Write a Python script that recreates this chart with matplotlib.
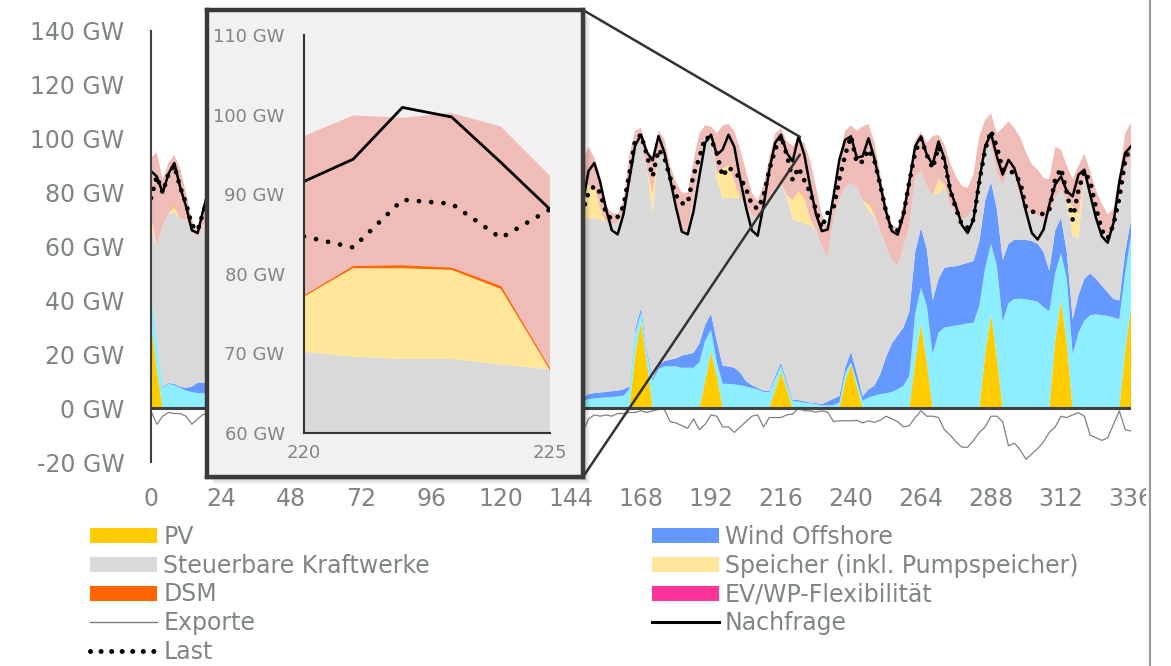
import numpy as np
import matplotlib.pyplot as plt
from matplotlib.patches import Patch, Rectangle, ConnectionPatch
from matplotlib.lines import Line2D

plt.rcParams['font.family'] = ['DejaVu Sans']

TXT = '#7f8585'
C_PV = '#ffcc00'
C_ON = '#8ceeff'
C_OFF = '#6699ff'
C_ST = '#d9d9d9'
C_SP = '#ffe699'
C_DSM = '#ff6600'
C_EV = '#ff3399'
C_IMP = '#f0bcb8'

# two weeks, every second hour (one row = one day)
hours = np.arange(0, 337, 2)

pv = [
    32, 14, 0, 0, 0, 0, 0, 0, 0, 0, 0, 12,
    26, 12, 0, 0, 0, 0, 0, 0, 0, 0, 0, 13,
    27, 13, 0, 0, 0, 0, 0, 0, 0, 0, 0, 11,
    24, 11, 0, 0, 0, 0, 0, 0, 0, 0, 0, 12,
    25, 12, 0, 0, 0, 0, 0, 0, 0, 0, 0, 12,
    24, 11, 0, 0, 0, 0, 0, 0, 0, 0, 0, 10,
    22, 10, 0, 0, 0, 0, 0, 0, 0, 0, 0, 20,
    32, 17, 0, 0, 0, 0, 0, 0, 0, 0, 0, 10,
    21, 12, 0, 0, 0, 0, 0, 0, 0, 0, 0, 7,
    13.5, 7, 0, 0, 0, 0, 0, 0, 0, 0, 0, 10,
    16.3, 8, 0, 0, 0, 0, 0, 0, 0, 0, 0, 17,
    31.5, 17, 0, 0, 0, 0, 0, 0, 0, 0, 0, 20,
    35, 19, 0, 0, 0, 0, 0, 0, 0, 0, 0, 25,
    40, 24, 0, 0, 0, 0, 0, 0, 0, 0, 0, 21,
    37,
]

wind_onshore = [
    10, 11, 7.6, 9, 8.5, 7.5, 6.5, 6, 5.5, 5.5, 5.5, 8,
    8, 8, 8, 8, 8, 7, 7, 7, 6, 7, 8, 9,
    9, 9, 9, 9, 9, 8, 8, 8, 7, 8, 9, 7,
    7, 7, 7, 7, 7, 6, 6, 6, 5, 6, 7, 6,
    6, 6, 6, 6, 6, 5, 5, 5, 5, 5, 6, 5,
    5, 5, 5, 5, 5, 4, 4, 4, 4, 4, 4, 3,
    3, 3, 2.7, 3.3, 3.6, 3.8, 4, 4.2, 4.3, 4.6, 7, 8,
    3.4, 3.6, 10, 14.5, 15.5, 15.5, 15.5, 15, 15, 15, 17, 15,
    8, 5, 9, 9, 8.8, 8.5, 8, 7.5, 7, 6, 6, 4,
    2.2, 2, 2.7, 2.4, 2.0, 1.8, 1.5, 1, 1, 1.2, 2, 3,
    0.7, 2, 2.7, 4, 4.6, 5.2, 5.5, 6, 7, 8.3, 12, 18,
    13.2, 21, 20, 28, 29.9, 30.3, 30.7, 31, 31.5, 31.7, 38, 32,
    26, 34, 32, 39, 40.5, 40.6, 40.4, 40, 39.5, 37.5, 36, 25,
    17.6, 24, 20, 28, 32.5, 34.5, 34.8, 34.5, 34.2, 33.6, 33, 29,
    27,
]

wind_offshore = [
    0.5, 0.5, 0.4, 0.3, 0.5, 0.5, 1, 2, 4, 4, 3.5, 3,
    3, 3, 3, 3, 3, 3, 3, 3, 3, 3, 3, 4,
    4, 4, 4, 4, 4, 4, 4, 4, 4, 4, 4, 3,
    3, 3, 3, 3, 3, 3, 3, 3, 3, 3, 3, 2,
    2, 2, 2, 2, 2, 2, 2, 2, 2, 2, 2, 2,
    2, 2, 2, 2, 2, 2, 2, 2, 2, 2, 2, 1,
    1, 1, 1.3, 1.9, 2, 2, 2, 2.1, 2.2, 2.4, 1, 1.3,
    1.9, 1.2, 1, 1.5, 2, 2.5, 3, 4.5, 5, 5.5, 7, 6,
    6, 8, 6.7, 6.5, 6.2, 4.7, 2, 1, 0.5, 0.5, 0.5, 1,
    1.2, 1, 0.5, 0.6, 0.5, 0.3, 0.4, 0.5, 1.5, 2.3, 2.5, 2,
    4, 3, 1.8, 3, 3.7, 7.3, 13.5, 18, 20, 21.7, 24, 23,
    22.3, 21, 20, 20, 22.1, 22.2, 22, 22.3, 22.5, 22.9, 24, 25,
    23, 21, 23, 22, 22, 22, 22.1, 22, 21.5, 20.5, 15, 16,
    13.1, 10, 13, 14, 15.5, 15.5, 13.2, 11, 8.8, 6.9, 7, 8,
    6,
]

steuerbar = [
    24.5, 34.5, 60, 62.7, 64, 62, 62.5, 58, 53.5, 58.5, 63, 62,
    52, 60, 74, 79, 74, 67, 59, 55, 56, 61, 68, 61,
    50, 58, 72, 77, 73, 66, 58, 54, 55, 60, 67, 64,
    55, 63, 76, 81, 76, 69, 61, 57, 58, 63, 70, 66,
    56, 64, 78, 83, 78, 71, 63, 59, 59, 65, 72, 67,
    59, 66, 79, 84, 79, 72, 64, 60, 60, 66, 74, 70,
    60, 62, 66, 65.3, 64.9, 64.2, 63, 62.2, 62.5, 65, 76, 68.7,
    61.7, 67.2, 61, 80, 76.5, 66, 57.5, 45.5, 46, 57.5, 68, 70,
    66, 60, 62.3, 62.5, 63, 64.8, 65, 63.5, 62.5, 66.5, 71.5, 70,
    66.6, 68, 67, 66.3, 66.1, 65.9, 64.1, 58.5, 53.5, 66.5, 72.9, 67,
    62.6, 69, 72.5, 66.7, 62.7, 53.5, 41, 31, 26, 30, 31.5, 28,
    21, 23.5, 39, 31.5, 30, 22.5, 19.8, 16.7, 17, 20.4, 28, 19,
    14, 13, 28, 28, 23.5, 16.4, 11.5, 10, 10.5, 12, 21, 12,
    10.3, 19, 31, 21, 38, 30, 25, 21.5, 20, 29.5, 38, 31,
    23,
]

# storage and demand-side management only run in a few hours
speicher_hours = {0: 4, 8: 2, 146: 4, 148: 8, 150: 12.5, 152: 11.5, 154: 4,
                  172: 8, 194: 2, 196: 11, 198: 12, 200: 6, 218: 1, 220: 7,
                  222: 11.4, 224: 9.5, 226: 2, 246: 2.3, 248: 1, 270: 5.5,
                  272: 1, 316: 11, 318: 9}
dsm_hours = {8: 0.5, 172: 0.3, 222: 0.3, 224: 0.3, 246: 0.3}

importe = [
    22, 35, 17, 19, 18.5, 19, 10, 4, 2, 4, 10, 12,
    11, 13, 13, 11, 12, 12, 10, 6, 5, 7, 11, 12,
    12, 13, 14, 12, 12, 12, 10, 6, 5, 7, 11, 12,
    12, 13, 13, 11, 12, 12, 10, 6, 5, 7, 11, 12,
    11, 13, 13, 11, 12, 12, 10, 6, 5, 7, 11, 12,
    11, 13, 13, 11, 12, 12, 10, 6, 5, 7, 11, 12,
    11, 12, 14, 14, 11, 12, 6, 4, 3, 5, 10, 5,
    5, 7, 12.7, 7, 6, 6, 8, 15, 14, 14, 10, 4,
    3.5, 15, 16, 15.5, 19, 18, 13, 8, 7, 10, 15, 20,
    20.5, 20, 20.1, 18.6, 20.1, 22, 16, 12, 11, 4, 14.6, 21,
    21.4, 21, 27.5, 29.2, 27, 21, 16, 13, 14, 16, 17.5, 13.5,
    14.5, 16, 22, 16.5, 15, 16, 13.5, 12.5, 10.7, 12, 11, 11,
    11.5, 15, 21, 17.5, 18, 21.5, 21, 18.5, 17, 15.5, 13, 19,
    15, 13, 10, 18, 8.5, 8, 8, 9, 9, 4, 8, 13,
    13,
]

exporte = [
    -1, -6, -3, -1.6, -2, -2, -3, -6, -4, -2.2, -3, -3,
    -2, -4, -3, -2, -3, -4, -5, -4, -3, -3, -2, -3,
    -2, -5, -3, -2, -4, -4, -6, -4, -3, -2, -2, -3,
    -3, -4, -2, -2, -3, -5, -5, -4, -3, -3, -2, -4,
    -2, -3, -3, -2, -3, -4, -6, -5, -3, -3, -2, -3,
    -2, -4, -3, -3, -3, -4, -5, -4, -2, -3, -2, -3,
    -3, -5, -9, -4, -2.5, -3, -2.5, -3, -2, -2, -1.6, -1.6,
    -1, -1.6, -1, -0.5, -0.5, -5, -5.5, -6.5, -7.5, -4, -8, -6,
    -2.5, -3, -7, -7, -9, -7, -5, -3, -2.5, -7, -3.5, -3.5,
    -3.5, -2.5, -2.2, 0, -1, -1, -1.5, -1, -1.5, -5, -4.7, -4.7,
    -4.7, -4.5, -5.5, -4.7, -5.3, -4.5, -3, -4, -5, -7, -6.5, -3.5,
    -1, -3, -3, -3.5, -8, -10, -12.5, -14.5, -14.5, -12, -9, -7,
    -3, -3, -5, -14, -13, -15.5, -19, -17, -15, -12.5, -9, -7,
    -3, -3.5, -2.5, -1.7, -3, -10, -11, -12, -11, -6, -1, -8,
    -8.5,
]

nachfrage = [
    88, 86, 80, 87, 91, 82, 75, 66, 65, 74, 82, 93,
    96, 91, 92, 98, 94, 84, 73, 65, 64, 73, 85, 94,
    97, 92, 93, 99, 95, 85, 74, 66, 65, 74, 86, 95,
    98, 93, 94, 100, 96, 86, 75, 67, 66, 75, 87, 94,
    97, 92, 93, 99, 95, 85, 74, 66, 65, 74, 86, 93,
    96, 91, 92, 98, 94, 84, 73, 65, 64, 73, 85, 90,
    92, 84, 76, 88, 91, 84, 74, 66, 64.5, 72, 85, 97.5,
    101.5, 95, 92, 101, 95, 85, 74.5, 65.5, 64.5, 73, 86, 98.5,
    101.5, 94, 96, 101.5, 97, 85, 74.5, 66, 64, 75, 88.5, 98.5,
    101.5, 94.7, 91.6, 100.9, 94, 82.3, 72, 65.7, 66.3, 78.6, 92.2, 99.6,
    100.9, 93, 93.5, 100.2, 92.8, 83, 73, 65.7, 64.4, 71.9, 84.2, 97.2,
    100.9, 94, 90.4, 99, 92.8, 81, 75, 68, 65, 70, 84.8, 97.2,
    102, 93.5, 86.7, 92.2, 89.1, 81.7, 73, 65, 62.6, 66.3, 75.6, 83,
    86, 80.5, 78.6, 86.7, 88.5, 79.3, 70.6, 63.8, 61.4, 68.8, 84.2, 94.7,
    97.2,
]

last = [
    78, 86, 80, 87, 90, 82, 76, 68, 66, 73, 80, 89,
    92, 89, 89, 94, 91, 83, 75, 69, 68, 73, 83, 90,
    93, 90, 90, 95, 92, 84, 76, 70, 69, 74, 84, 91,
    94, 90, 91, 96, 93, 85, 77, 70, 69, 75, 85, 90,
    93, 89, 90, 95, 92, 84, 76, 70, 69, 74, 84, 89,
    92, 88, 89, 94, 91, 83, 75, 69, 68, 73, 83, 86,
    88, 80, 73, 80, 82.5, 80, 72.5, 70, 71, 75, 87, 99.5,
    101.5, 94, 86, 96, 93, 85.5, 79, 76, 76, 86.5, 93, 100.5,
    100, 94.5, 86, 89.5, 87.5, 85.5, 81.5, 75.5, 74, 78.5, 88.5, 96,
    101, 94, 84.7, 89.3, 84.5, 80, 73.5, 67, 72.5, 74.3, 84.8, 94,
    100.9, 91, 91.5, 96, 92, 83, 73, 66, 66, 72, 84, 95,
    100, 94, 89, 97, 92, 81, 74, 68, 67, 70, 84, 96,
    103, 97, 88.5, 88.5, 87, 84, 74.5, 73, 72.5, 72, 73.5, 85,
    89, 80, 70, 81, 88, 84, 74.5, 66, 63, 68, 78, 92,
    97,
]

# hourly detail for the zoom window
inset_hours = [220, 221, 222, 223, 224, 225]
inset_pv = [0, 0, 0, 0, 0, 0]
inset_wind_onshore = [2.7, 2.5, 2.4, 2.2, 2.0, 1.9]
inset_wind_offshore = [0.5, 0.6, 0.6, 0.5, 0.5, 0.3]
inset_steuerbar = [67.0, 66.5, 66.3, 66.6, 66.1, 65.8]
inset_speicher = [7.0, 11.1, 11.4, 11.2, 9.5, 0.0]
inset_dsm = [0.0, 0.2, 0.3, 0.2, 0.3, 0.0]
inset_importe = [20.1, 19.0, 18.6, 19.5, 20.1, 24.3]
inset_nachfrage = [91.6, 94.4, 100.9, 99.7, 94.0, 88.1]
inset_last = [84.7, 83.3, 89.3, 88.8, 84.5, 88.1]

speicher = np.array([speicher_hours.get(h, 0.0) for h in hours])
dsm = np.array([dsm_hours.get(h, 0.0) for h in hours])

W, H = 1171, 666
fig = plt.figure(figsize=(W / 100, H / 100), dpi=100)


def fig_rect(x0, y0, x1, y1):
    # pixel box (top-left origin) -> figure fraction [l, b, w, h]
    return [x0 / W, 1 - y1 / H, (x1 - x0) / W, (y1 - y0) / H]


def dotted(gap):
    # round dots: almost zero dash length with round caps
    return dict(linestyle=(0, (0.01, gap)), dash_capstyle='round')


ax = fig.add_axes(fig_rect(151, 31, 1131, 462))
ax.stackplot(hours, pv, wind_onshore, wind_offshore, steuerbar, speicher, dsm, importe,
             colors=[C_PV, C_ON, C_OFF, C_ST, C_SP, C_DSM, C_IMP], lw=0)
ax.plot(hours, exporte, color='#808080', lw=0.9)
ax.axhline(0, color='#404040', lw=2.2)
ax.plot(hours, nachfrage, color='black', lw=1.8)
ax.plot(hours, last, color='black', lw=3.4, **dotted(2.0))

ax.set_xlim(0, 336)
ax.set_ylim(-20, 140)
ax.set_xticks(range(0, 337, 24))
ax.set_yticks(range(-20, 141, 20))
ax.set_yticklabels([f'{v} GW' for v in range(-20, 141, 20)])
ax.tick_params(length=0, labelsize=17, labelcolor=TXT)
ax.tick_params(axis='y', pad=19)
ax.tick_params(axis='x', pad=18)
for side in ['top', 'right', 'bottom']:
    ax.spines[side].set_visible(False)
ax.spines['left'].set_color('#404040')
ax.spines['left'].set_linewidth(1.5)

# zoom box with soft shadow
bx0, by0, bx1, by1 = 207, 10, 583, 477
for off, a in [(7, 0.05), (5, 0.07), (3, 0.10)]:
    fig.add_artist(Rectangle(((bx0 + off) / W, 1 - (by1 + off) / H), (bx1 - bx0) / W,
                             (by1 - by0) / H, transform=fig.transFigure,
                             color='black', alpha=a, lw=0, zorder=2.5))

box = fig.add_axes(fig_rect(bx0, by0, bx1, by1))
box.set_zorder(3)
box.set_facecolor('#f1f1f1')
box.set_xticks([])
box.set_yticks([])
for s in box.spines.values():
    s.set_color('#3a3a3a')
    s.set_linewidth(3.2)

ins = fig.add_axes(fig_rect(304, 35, 550, 433))
ins.set_zorder(4)
ins.set_facecolor('none')
ins.stackplot(inset_hours, inset_pv, inset_wind_onshore, inset_wind_offshore,
              inset_steuerbar, inset_speicher, inset_dsm, inset_importe,
              colors=[C_PV, C_ON, C_OFF, C_ST, C_SP, C_DSM, C_IMP], lw=0)
dsm_top = np.sum([inset_pv, inset_wind_onshore, inset_wind_offshore, inset_steuerbar,
                  inset_speicher, inset_dsm], axis=0)
ins.plot(inset_hours, dsm_top, color=C_DSM, lw=0.8)
ins.plot(inset_hours, inset_nachfrage, color='black', lw=2)
ins.plot(inset_hours, inset_last, color='black', lw=3.4, **dotted(2.6))
ins.set_xlim(220, 225)
ins.set_ylim(60, 110)
ins.set_xticks([220, 225])
ins.set_yticks(range(60, 111, 10))
ins.set_yticklabels([f'{v} GW' for v in range(60, 111, 10)])
ins.tick_params(length=0, labelsize=13, labelcolor=TXT)
ins.tick_params(axis='y', pad=14)
ins.tick_params(axis='x', pad=8)
for side in ['top', 'right']:
    ins.spines[side].set_visible(False)
for side in ['left', 'bottom']:
    ins.spines[side].set_color('#333333')
    ins.spines[side].set_linewidth(1.5)

# lines from the box to the zoomed spot
for corner, target in [((1, 1), (222.5, 100.7)), ((1, 0), (222.5, 94.1))]:
    con = ConnectionPatch(xyA=corner, coordsA=box.transAxes, xyB=target,
                          coordsB=ax.transData, color='#333333', lw=1.8)
    con.set_zorder(2)
    fig.add_artist(con)

handles = [
    Patch(facecolor=C_PV, edgecolor='none'),
    Patch(facecolor=C_ST, edgecolor='none'),
    Patch(facecolor=C_DSM, edgecolor='none'),
    Line2D([], [], color='#808080', lw=1),
    Line2D([], [], color='black', lw=3.6, **dotted(2.1)),
    Patch(facecolor=C_OFF, edgecolor='none'),
    Patch(facecolor=C_SP, edgecolor='none'),
    Patch(facecolor=C_EV, edgecolor='none'),
    Line2D([], [], color='black', lw=2.2),
]
labels = ['PV', 'Steuerbare Kraftwerke', 'DSM', 'Exporte', 'Last',
          'Wind Offshore', 'Speicher (inkl. Pumpspeicher)', 'EV/WP-Flexibilität', 'Nachfrage']
fig.legend(handles, labels, loc='upper left', bbox_to_anchor=(90 / W, 1 - 525 / H),
           ncol=2, frameon=False, fontsize=17, labelcolor=TXT, handlelength=2.85,
           handleheight=0.6, handletextpad=0.25, columnspacing=9.4, labelspacing=0.2,
           borderaxespad=0, borderpad=0)

# right frame edge
fig.add_artist(Rectangle((1146 / W, 0), (W - 1146) / W, 1, transform=fig.transFigure,
                         color='white', lw=0, zorder=10))
fig.add_artist(Line2D([1150 / W, 1150 / W], [0, 1], transform=fig.transFigure,
                      color='#9a9a9a', lw=1.5, zorder=11))

fig.savefig('out.png', dpi=100)
